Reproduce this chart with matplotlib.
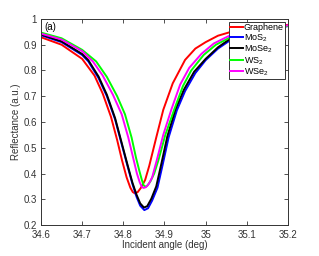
import matplotlib
matplotlib.use("Agg")
import matplotlib.pyplot as plt

plt.rcParams['font.family'] = ['Liberation Sans', 'DejaVu Sans']
plt.rcParams['mathtext.default'] = 'regular'

# Reflectance curves (incident angle in deg)
th_graphene = [34.6, 34.65, 34.70, 34.73, 34.75, 34.77, 34.785, 34.797, 34.808, 34.817,
               34.823, 34.828, 34.835, 34.843, 34.853, 34.863, 34.88, 34.897, 34.92, 34.95,
               34.975, 35.0, 35.03, 35.064, 35.1, 35.13, 35.2]
r_graphene = [0.929, 0.90, 0.845, 0.78, 0.71, 0.62, 0.53, 0.45, 0.385, 0.345,
              0.328, 0.323, 0.328, 0.345, 0.375, 0.43, 0.54, 0.647, 0.75, 0.841,
              0.885, 0.91, 0.935, 0.951, 0.962, 0.968, 0.977]

th_mos2 = [34.6, 34.65, 34.70, 34.715, 34.74, 34.76, 34.78, 34.795, 34.81, 34.822,
           34.832, 34.841, 34.851, 34.86, 34.87, 34.883, 34.895, 34.91, 34.93, 34.95,
           34.975, 35.0, 35.03, 35.064, 35.1, 35.15, 35.2]
r_mos2 = [0.937, 0.91, 0.86, 0.835, 0.77, 0.70, 0.61, 0.52, 0.43, 0.36,
          0.31, 0.275, 0.258, 0.265, 0.295, 0.345, 0.43, 0.54, 0.645, 0.72,
          0.79, 0.84, 0.885, 0.922, 0.945, 0.962, 0.972]

th_mose2 = [34.6, 34.65, 34.70, 34.715, 34.74, 34.76, 34.78, 34.795, 34.81, 34.822,
            34.832, 34.841, 34.85, 34.858, 34.868, 34.88, 34.892, 34.907, 34.927, 34.947,
            34.972, 35.0, 35.03, 35.064, 35.1, 35.15, 35.2]
r_mose2 = [0.940, 0.913, 0.864, 0.84, 0.776, 0.706, 0.615, 0.525, 0.435, 0.365,
           0.318, 0.284, 0.268, 0.273, 0.302, 0.35, 0.435, 0.545, 0.65, 0.725,
           0.795, 0.845, 0.89, 0.928, 0.948, 0.964, 0.973]

th_ws2 = [34.6, 34.65, 34.70, 34.734, 34.76, 34.785, 34.804, 34.82, 34.831, 34.839,
          34.845, 34.849, 34.853, 34.858, 34.866, 34.875, 34.885, 34.902, 34.924, 34.945,
          34.965, 34.995, 35.025, 35.064, 35.1, 35.15, 35.2]
r_ws2 = [0.947, 0.925, 0.88, 0.835, 0.775, 0.70, 0.63, 0.54, 0.46, 0.41,
         0.375, 0.355, 0.349, 0.352, 0.37, 0.40, 0.45, 0.55, 0.65, 0.74,
         0.80, 0.86, 0.90, 0.932, 0.95, 0.964, 0.973]

th_wse2 = [34.6, 34.65, 34.70, 34.726, 34.75, 34.775, 34.796, 34.812, 34.824, 34.833,
           34.84, 34.845, 34.849, 34.855, 34.862, 34.87, 34.881, 34.897, 34.917, 34.938,
           34.96, 34.99, 35.02, 35.064, 35.1, 35.15, 35.2]
r_wse2 = [0.943, 0.92, 0.875, 0.835, 0.78, 0.705, 0.63, 0.54, 0.46, 0.40,
          0.365, 0.348, 0.344, 0.347, 0.36, 0.385, 0.45, 0.55, 0.65, 0.745,
          0.81, 0.865, 0.905, 0.94, 0.955, 0.967, 0.975]

series = [
    ("Graphene", th_graphene, r_graphene, "red"),
    ("MoS$_2$", th_mos2, r_mos2, "blue"),
    ("MoSe$_2$", th_mose2, r_mose2, "black"),
    ("WS$_2$", th_ws2, r_ws2, "#00ff00"),
    ("WSe$_2$", th_wse2, r_wse2, "magenta"),
]

fig = plt.figure(figsize=(3.19, 2.56), dpi=100)
ax = fig.add_axes([0.1285, 0.121, 0.7743, 0.805])

for name, th, r, col in series:
    ax.plot(th, r, color=col, lw=1.4, label=name)

ax.set_xlim(34.6, 35.2)
ax.set_ylim(0.2, 1.0)
ax.set_xticks([34.6, 34.7, 34.8, 34.9, 35.0, 35.1, 35.2])
ax.set_xticklabels(["34.6", "34.7", "34.8", "34.9", "35", "35.1", "35.2"])
ax.set_yticks([0.2, 0.3, 0.4, 0.5, 0.6, 0.7, 0.8, 0.9, 1.0])
ax.set_yticklabels(["0.2", "0.3", "0.4", "0.5", "0.6", "0.7", "0.8", "0.9", "1"])
ax.tick_params(direction='in', top=True, right=True, length=3, width=0.6,
               labelsize=7, colors='#333333')
ax.tick_params(axis='x', pad=3.5)
ax.tick_params(axis='y', pad=3)
for s in ax.spines.values():
    s.set_color('#333333')
    s.set_linewidth(0.7)

ax.set_xlabel("Incident angle (deg)", fontsize=7, color='#333333', labelpad=0)
ax.set_ylabel("Reflectance (a.u.)", fontsize=7, color='#333333', labelpad=2)
ax.text(0.012, 0.985, "(a)", transform=ax.transAxes, fontsize=7, va='top', ha='left')

leg = ax.legend(loc='upper right', fontsize=6.5, frameon=True, fancybox=False,
                handlelength=1.45, handletextpad=0.1, labelspacing=0.0,
                borderpad=0.1, borderaxespad=0.35, framealpha=1)
leg.get_frame().set_edgecolor('#333333')
leg.get_frame().set_linewidth(0.7)

fig.savefig("out.png", dpi=100)
